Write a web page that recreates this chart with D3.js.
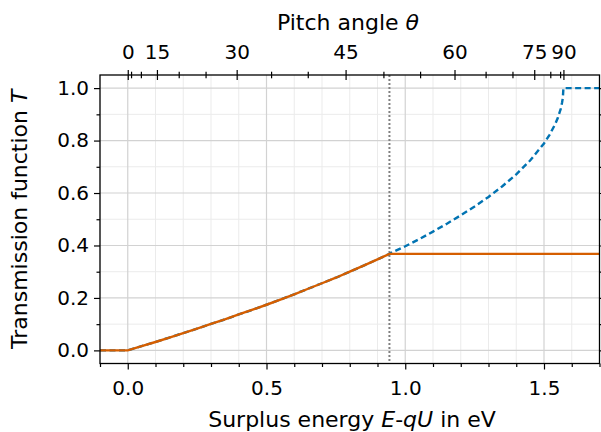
<!DOCTYPE html>
<html><head><meta charset="utf-8">
<script src="https://cdn.jsdelivr.net/npm/d3@7"></script>
<style>
body{margin:0;background:#fff}
svg text{font-family:"DejaVu Sans",sans-serif;fill:#000}
</style></head>
<body><svg id="c" width="601" height="432"></svg>
<script>
// ---- data ----
const energy = [-0.1, 0, 0.05, 0.1, 0.15, 0.2, 0.25, 0.3, 0.35, 0.4, 0.45, 0.5, 0.55, 0.6, 0.65, 0.7, 0.75, 0.8, 0.85, 0.9, 0.943, 0.95, 1.0, 1.05, 1.1, 1.15, 1.2, 1.25, 1.3, 1.35, 1.4, 1.45, 1.5, 1.52, 1.54, 1.55, 1.56, 1.565, 1.568, 1.57, 1.7];
const transBlue = [0, 0, 0.016, 0.032, 0.049, 0.066, 0.083, 0.101, 0.118, 0.137, 0.155, 0.174, 0.194, 0.214, 0.235, 0.256, 0.277, 0.300, 0.323, 0.347, 0.368, 0.372, 0.397, 0.424, 0.453, 0.483, 0.515, 0.549, 0.585, 0.626, 0.671, 0.724, 0.789, 0.822, 0.862, 0.887, 0.920, 0.944, 0.964, 1.0, 1.0];
const energyCut = [-0.1, 0, 0.05, 0.1, 0.15, 0.2, 0.25, 0.3, 0.35, 0.4, 0.45, 0.5, 0.55, 0.6, 0.65, 0.7, 0.75, 0.8, 0.85, 0.9, 0.943, 1.7];
const transOrange = [0, 0, 0.016, 0.032, 0.049, 0.066, 0.083, 0.101, 0.118, 0.137, 0.155, 0.174, 0.194, 0.214, 0.235, 0.256, 0.277, 0.300, 0.323, 0.347, 0.368, 0.368];
const cutoffEnergy = [0.943];
const xMajorTicks = [0, 0.5, 1.0, 1.5];
const yMajorTicks = [0, 0.2, 0.4, 0.6, 0.8, 1.0];
const angleMajorTicks = [0, 15, 30, 45, 60, 75, 90];
const angleMinorTicks = [5, 10, 20, 25, 35, 40, 50, 55, 65, 70, 80, 85];
const maxEnergy = 1.57; // surplus energy at which pitch angle reaches 90 deg

// ---- layout ----
const svg = d3.select('#c');
const L = 100, R = 599.5, T = 75, B = 363.5;
const x = d3.scaleLinear().domain([-0.1, 1.7]).range([L, R]);
const y = d3.scaleLinear().domain([-0.05, 1.05]).range([B, T]);
const xMinor = d3.range(-0.1, 1.75, 0.1).map(v => +v.toFixed(2)).filter(v => !xMajorTicks.some(m => Math.abs(m - v) < 1e-9));
const yMinor = [0.1, 0.3, 0.5, 0.7, 0.9];

// pitch-angle scale: energy = maxEnergy * sin^2(theta)
const angleScale = function(th) { const s = Math.sin(th * Math.PI / 180); return x(maxEnergy * s * s); };
angleScale.range = () => x.range();
angleScale.domain = () => [0, 90];
angleScale.copy = () => angleScale;

const FS = 20, LFS = 22;

// grid
const grid = svg.append('g');
grid.selectAll('.vm').data(xMinor).join('line').attr('x1', d => x(d)).attr('x2', d => x(d)).attr('y1', T).attr('y2', B).attr('stroke', '#ebebeb').attr('stroke-width', 1);
grid.selectAll('.hm').data(yMinor).join('line').attr('y1', d => y(d)).attr('y2', d => y(d)).attr('x1', L).attr('x2', R).attr('stroke', '#ebebeb').attr('stroke-width', 1);
grid.selectAll('.vM').data(xMajorTicks).join('line').attr('x1', d => x(d)).attr('x2', d => x(d)).attr('y1', T).attr('y2', B).attr('stroke', '#d2d2d2').attr('stroke-width', 1.2);
grid.selectAll('.hM').data(yMajorTicks).join('line').attr('y1', d => y(d)).attr('y2', d => y(d)).attr('x1', L).attr('x2', R).attr('stroke', '#d2d2d2').attr('stroke-width', 1.2);

// cutoff dotted line
svg.selectAll('.cut').data(cutoffEnergy).join('line').attr('x1', d => x(d)).attr('x2', d => x(d)).attr('y1', T).attr('y2', B)
  .attr('stroke', '#808080').attr('stroke-width', 2).attr('stroke-dasharray', '2,2');

// curves
const line = d3.line().x(d => x(d[0])).y(d => y(d[1]));
svg.append('path').datum(energy.map((e, i) => [e, transBlue[i]])).attr('d', line)
  .attr('fill', 'none').attr('stroke', '#0173b2').attr('stroke-width', 2.4).attr('stroke-dasharray', '6,3.5');
svg.append('path').datum(energyCut.map((e, i) => [e, transOrange[i]])).attr('d', line)
  .attr('fill', 'none').attr('stroke', '#d55e00').attr('stroke-width', 2.4);

// axes
function style(g) {
  g.attr('font-family', null).attr('font-size', null);
  g.selectAll('text').attr('font-size', FS);
  g.select('.domain').remove();
  g.selectAll('.tick line').attr('stroke', '#000').attr('stroke-width', 1.2);
}
svg.append('g').attr('transform', `translate(0,${B})`)
  .call(d3.axisBottom(x).tickValues(xMajorTicks).tickFormat(d3.format('.1f')).tickSize(6).tickPadding(11)).call(style);
svg.append('g').attr('transform', `translate(0,${B})`)
  .call(d3.axisBottom(x).tickValues(xMinor).tickFormat('').tickSize(3.5)).call(style);
svg.append('g').attr('transform', `translate(${L},0)`)
  .call(d3.axisLeft(y).tickValues(yMajorTicks).tickFormat(d3.format('.1f')).tickSize(6).tickPadding(5)).call(style);
svg.append('g').attr('transform', `translate(${L},0)`)
  .call(d3.axisLeft(y).tickValues(yMinor).tickFormat('').tickSize(3.5)).call(style);
svg.append('g').attr('transform', `translate(${R},0)`)
  .call(d3.axisRight(y).tickValues(yMajorTicks).tickFormat('').tickSize(6)).call(style);
svg.append('g').attr('transform', `translate(${R},0)`)
  .call(d3.axisRight(y).tickValues(yMinor).tickFormat('').tickSize(3.5)).call(style);
const topMaj = svg.append('g').attr('transform', `translate(0,${T})`)
  .call(d3.axisTop(angleScale).tickValues(angleMajorTicks).tickFormat(d => d).tickSize(5).tickPadding(11)).call(style);
topMaj.selectAll('.tick line').attr('y1', 5).attr('y2', -5);
const topMin = svg.append('g').attr('transform', `translate(0,${T})`)
  .call(d3.axisTop(angleScale).tickValues(angleMinorTicks).tickFormat('').tickSize(3.3)).call(style);
topMin.selectAll('.tick line').attr('y1', 3.3).attr('y2', -3.3);

// spines
svg.append('rect').attr('x', L).attr('y', T).attr('width', R - L).attr('height', B - T)
  .attr('fill', 'none').attr('stroke', '#000').attr('stroke-width', 1.3);

// labels
const xl = svg.append('text').attr('x', 352).attr('y', 427).attr('text-anchor', 'middle').attr('font-size', LFS);
xl.append('tspan').text('Surplus energy ');
xl.append('tspan').attr('font-style', 'italic').text('E');
xl.append('tspan').text('-');
xl.append('tspan').attr('font-style', 'italic').text('qU');
xl.append('tspan').text(' in eV');

const tl = svg.append('text').attr('x', 348).attr('y', 30).attr('text-anchor', 'middle').attr('font-size', LFS);
tl.append('tspan').text('Pitch angle ');
tl.append('tspan').attr('font-style', 'italic').text('θ');

const yl = svg.append('text').attr('transform', `translate(27,${(T + B) / 2}) rotate(-90)`).attr('text-anchor', 'middle').attr('font-size', LFS);
yl.append('tspan').text('Transmission function ');
yl.append('tspan').attr('font-style', 'italic').text('T');
</script></body></html>
